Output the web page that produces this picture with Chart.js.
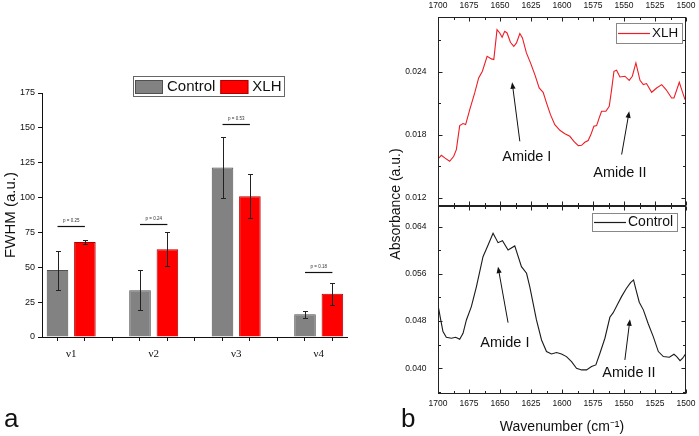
<!DOCTYPE html>
<html>
<head>
<meta charset="utf-8">
<script src="https://cdn.jsdelivr.net/npm/chart.js@4.4.1/dist/chart.umd.min.js"></script>
<style>
  html, body { margin:0; padding:0; background:#fff; }
  body { width:699px; height:436px; position:relative; overflow:hidden; font-family:"Liberation Sans", Arial, sans-serif; color:#111; }
  canvas { position:absolute; display:block; }
  #fwhm { left:0; top:0; }
  #absTop { left:380px; top:0; }
  #absBottom { left:380px; top:200px; }
  .panel { position:absolute; font-size:26px; line-height:26px; color:#111; }
  #absTitle { position:absolute; left:394.5px; top:204px; font-size:14px; line-height:14px; white-space:nowrap; transform:translate(-50%,-50%) rotate(-90deg); color:#111; }
</style>
</head>
<body>
<canvas id="fwhm" width="380" height="436"></canvas>
<canvas id="absTop" width="319" height="212"></canvas>
<canvas id="absBottom" width="319" height="236"></canvas>
<div class="panel" style="left:4px;top:404.7px;">a</div>
<div class="panel" style="left:401px;top:404.7px;">b</div>
<div id="absTitle">Absorbance (a.u.)</div>
<script>
// ---------------- Panel a data ----------------
const categories = ['ν1', 'ν2', 'ν3', 'ν4'];
const controlFWHM = [48, 33.6, 121.5, 16.3];
const controlSD = [14, 14.2, 22, 2.4];
const xlhFWHM = [68.1, 63, 101, 31];
const xlhSD = [1.2, 12.4, 15.8, 7.7];
const pValues = ['0.25', '0.24', '0.53', '0.18'];
const pBracketLevel = [79.6, 81, 152.7, 46.3];
const fwhmTicks = [0, 25, 50, 75, 100, 125, 150, 175];

// ---------------- Panel b data ----------------
const wavenumberTicks = [1500, 1525, 1550, 1575, 1600, 1625, 1650, 1675, 1700];
const xlhAbsTicks = [0.012, 0.018, 0.024];
const controlAbsTicks = [0.040, 0.048, 0.056, 0.064];

const xlhWavenumber = [1700, 1697.3, 1694.6, 1690.6, 1687.3, 1685.2, 1682.5, 1679.8, 1677.7, 1674.4,
  1670.4, 1667.2, 1664.2, 1660.4, 1656.9, 1655.0, 1652.4, 1650.2, 1648.3, 1646.2,
  1644.3, 1641.6, 1638.9, 1636.7, 1634.0, 1631.9, 1628.7, 1625.4, 1621.9, 1618.4,
  1615.2, 1612.5, 1609.3, 1605.8, 1601.7, 1597.7, 1593.7, 1590.4, 1586.9, 1584.2,
  1581.6, 1578.9, 1576.7, 1574.3, 1572.1, 1570.0, 1568.1, 1564.6, 1561.9, 1560.0,
  1558.1, 1556.0, 1553.3, 1549.3, 1545.8, 1543.3, 1540.4, 1537.1, 1534.4, 1531.8,
  1527.7, 1523.7, 1519.6, 1516.1, 1511.6, 1509.7, 1505.4, 1503.5, 1500.8];
const xlhAbsorbance = [0.01568, 0.01603, 0.01578, 0.01546, 0.01594, 0.01657, 0.01886, 0.01905, 0.01895, 0.02038,
  0.02197, 0.0234, 0.02403, 0.02546, 0.02521, 0.02514, 0.0280, 0.02768, 0.02727, 0.02784,
  0.02768, 0.02679, 0.02641, 0.02673, 0.02762, 0.02721, 0.02578, 0.02483, 0.02371, 0.02244,
  0.02203, 0.02102, 0.0199, 0.01895, 0.01841, 0.01809, 0.01784, 0.01736, 0.01695, 0.01698,
  0.01727, 0.01743, 0.018, 0.01879, 0.01886, 0.01959, 0.02022, 0.02022, 0.0207, 0.02229,
  0.02403, 0.02413, 0.02349, 0.02356, 0.02317, 0.02356, 0.02483, 0.02317, 0.02276, 0.02286,
  0.02203, 0.02244, 0.02276, 0.02229, 0.02149, 0.02149, 0.02298, 0.02229, 0.02133];

const controlWavenumber = [1699.5, 1697.8, 1696.0, 1693.3, 1689.2, 1685.7, 1682.5, 1679.8, 1677.1, 1673.1,
  1669.0, 1663.7, 1659.6, 1655.6, 1651.6, 1648.0, 1643.5, 1638.1, 1632.7, 1628.6,
  1626.0, 1620.6, 1616.5, 1612.5, 1608.5, 1604.4, 1600.4, 1596.4, 1592.3, 1588.3,
  1584.2, 1580.2, 1576.2, 1572.7, 1569.4, 1565.4, 1561.4, 1558.7, 1555.5, 1552.0,
  1548.0, 1544.7, 1542.3, 1540.4, 1537.7, 1534.4, 1530.4, 1526.4, 1522.3, 1518.3,
  1513.4, 1509.7, 1507.5, 1504.8, 1502.7, 1500.3];
const controlAbsorbance = [0.05017, 0.04819, 0.04622, 0.04526, 0.04509, 0.04526, 0.04492, 0.04593, 0.04819, 0.05045,
  0.05384, 0.05891, 0.0609, 0.06288, 0.06129, 0.06163, 0.06005, 0.06073, 0.05722, 0.0561,
  0.05383, 0.04819, 0.0448, 0.04283, 0.04243, 0.04266, 0.04243, 0.04198, 0.04113, 0.0400,
  0.03972, 0.03972, 0.04029, 0.04057, 0.04255, 0.04509, 0.04864, 0.04943, 0.05073, 0.05214,
  0.05356, 0.05451, 0.05497, 0.05339, 0.0512, 0.0499, 0.0475, 0.04537, 0.04283, 0.04198,
  0.04187, 0.04238, 0.04198, 0.0413, 0.0417, 0.04243];

// annotation anchors in data units (wavenumber, absorbance)
const xlhAnnotations = [
  { text: 'Amide I', x: 1628.4, y: 0.0159, fromX: 1634.0, fromY: 0.01736, toX: 1640.2, toY: 0.02298 },
  { text: 'Amide II', x: 1553.3, y: 0.01433, fromX: 1551.9, fromY: 0.0161, toX: 1545.8, toY: 0.02022 }
];
const controlAnnotations = [
  { text: 'Amide I', x: 1646.1, y: 0.04429, fromX: 1643.5, fromY: 0.04773, toX: 1651.6, toY: 0.05722 },
  { text: 'Amide II', x: 1546.0, y: 0.0392, fromX: 1549.3, fromY: 0.04141, toX: 1545.2, toY: 0.0483 }
];

Chart.defaults.font.family = '"Liberation Sans", Arial, sans-serif';
Chart.defaults.color = '#111';
Chart.defaults.animation = false;
const FONT = '"Liberation Sans", Arial, sans-serif';

// ---------------- Panel a plugins ----------------
const errorBars = {
  id: 'errorBars',
  afterDatasetsDraw(chart) {
    const ctx = chart.ctx, ys = chart.scales.y;
    ctx.save();
    ctx.strokeStyle = '#222';
    ctx.lineWidth = 1;
    chart.data.datasets.forEach((ds, di) => {
      chart.getDatasetMeta(di).data.forEach((bar, i) => {
        const v = ds.data[i].y, e = ds.sd[i];
        const x = Math.round(bar.x) + 0.5;
        const y1 = Math.round(ys.getPixelForValue(v + e)) + 0.5;
        const y2 = Math.round(ys.getPixelForValue(v - e)) + 0.5;
        ctx.beginPath();
        ctx.moveTo(x, y1); ctx.lineTo(x, y2);
        ctx.moveTo(x - 2.5, y1); ctx.lineTo(x + 2.5, y1);
        ctx.moveTo(x - 2.5, y2); ctx.lineTo(x + 2.5, y2);
        ctx.stroke();
      });
    });
    ctx.restore();
  }
};

const pBrackets = {
  id: 'pBrackets',
  afterDatasetsDraw(chart) {
    const ctx = chart.ctx, ys = chart.scales.y;
    const m0 = chart.getDatasetMeta(0).data, m1 = chart.getDatasetMeta(1).data;
    ctx.save();
    pValues.forEach((p, i) => {
      const y = Math.round(ys.getPixelForValue(pBracketLevel[i])) + 0.5;
      ctx.strokeStyle = '#111';
      ctx.lineWidth = 1.2;
      ctx.beginPath(); ctx.moveTo(m0[i].x, y); ctx.lineTo(m1[i].x, y); ctx.stroke();
      ctx.fillStyle = '#333';
      ctx.font = '4.5px ' + FONT;
      ctx.textAlign = 'center';
      ctx.textBaseline = 'alphabetic';
      ctx.fillText('p = ' + p, (m0[i].x + m1[i].x) / 2, y - 5);
    });
    ctx.restore();
  }
};

const fwhmLegend = {
  id: 'fwhmLegend',
  afterDraw(chart) {
    const ctx = chart.ctx, a = chart.chartArea;
    const left = Math.round(a.left + 91), top = Math.round(a.top - 17), h = 20;
    ctx.save();
    ctx.font = '15px ' + FONT;
    ctx.textBaseline = 'middle';
    ctx.textAlign = 'left';
    let x = left + 2;
    chart.data.datasets.forEach(ds => {
      const w = ctx.measureText(ds.label).width;
      ctx.fillStyle = ds.backgroundColor;
      ctx.fillRect(x, top + 4, 28, 14);
      ctx.strokeStyle = ds.borderColor;
      ctx.lineWidth = 1;
      ctx.strokeRect(x + 0.5, top + 4.5, 27, 13);
      ctx.fillStyle = '#111';
      ctx.fillText(ds.label, x + 32, top + 10.5);
      x += 32 + w + 5;
    });
    ctx.strokeStyle = '#666';
    ctx.lineWidth = 1;
    ctx.strokeRect(left + 0.5, top + 0.5, Math.round(x - 5 + 2 - left), h);
    ctx.restore();
  }
};

const groupPos = categories.map((c, i) => i + 1);

new Chart(document.getElementById('fwhm'), {
  type: 'bar',
  data: {
    datasets: [
      { label: 'Control', xAxisID: 'x', yAxisID: 'y',
        data: controlFWHM.map((v, i) => ({ x: groupPos[i], y: v })), sd: controlSD,
        backgroundColor: '#828282', borderColor: '#505050', borderWidth: 1,
        categoryPercentage: 0.664, barPercentage: 0.788 },
      { label: 'XLH', xAxisID: 'x', yAxisID: 'y',
        data: xlhFWHM.map((v, i) => ({ x: groupPos[i], y: v })), sd: xlhSD,
        backgroundColor: '#ff0000', borderColor: '#b00000', borderWidth: 1,
        categoryPercentage: 0.664, barPercentage: 0.788 }
    ]
  },
  options: {
    responsive: false,
    animation: false,
    layout: { padding: { left: 0, top: 93, right: 33, bottom: 0 } },
    plugins: { legend: { display: false }, tooltip: { enabled: false } },
    scales: {
      x: {
        type: 'linear', position: 'bottom', weight: 1, min: 0.646, max: 4.343, offset: false,
        afterBuildTicks: s => { s.ticks = groupPos.map(v => ({ value: v })); },
        afterFit: s => { s.height = 95; },
        ticks: { autoSkip: false, maxRotation: 0, padding: 7, color: '#111',
          font: { family: '"Liberation Serif", "Times New Roman", serif', size: 11 },
          callback: v => categories[Math.round(v) - 1] || '' },
        grid: { display: false, drawTicks: false, offset: false },
        border: { display: false }
      },
      xMinor: {
        type: 'linear', axis: 'x', position: 'bottom', weight: 0, min: 0.646, max: 4.343, offset: false,
        afterBuildTicks: s => {
          const t = [];
          for (let v = groupPos[0] - 1 / 6; v <= groupPos[groupPos.length - 1] + 1 / 6 + 1e-9; v += 1 / 3) t.push({ value: v });
          s.ticks = t;
        },
        afterFit: s => { s.height = 4; },
        ticks: { display: false },
        grid: { drawOnChartArea: false, drawTicks: true, tickLength: 4, color: '#111', offset: false },
        border: { display: true, color: '#111', width: 1 }
      },
      y: {
        min: 0, max: 175,
        afterBuildTicks: s => { s.ticks = fwhmTicks.map(v => ({ value: v })); },
        afterFit: s => { s.width = 42; },
        ticks: { padding: 3, font: { size: 9 }, color: '#111' },
        grid: { drawOnChartArea: false, drawTicks: true, tickLength: 4, color: '#111' },
        border: { display: true, color: '#111', width: 1 },
        title: { display: true, text: 'FWHM (a.u.)', font: { size: 15 }, color: '#111', padding: { top: 1.8, bottom: 0 } }
      }
    }
  },
  plugins: [errorBars, pBrackets, fwhmLegend]
});

// ---------------- Panel b ----------------
function minorBetween(major, lo, hi) {
  const step = major[1] - major[0];
  const out = [];
  for (let i = -1; i < major.length; i++) {
    const v = major[0] + (i + 0.5) * step;
    if (v > lo && v < hi) out.push(v);
  }
  return out;
}

function spectrumChart(canvasId, cfg) {
  const minorX = minorBetween(wavenumberTicks, 1500, 1700);
  const minorY = minorBetween(cfg.yTicks, cfg.yMin, cfg.yMax);
  const frame = {
    id: 'frame_' + canvasId,
    afterDraw(chart) {
      const { ctx, chartArea: a, scales: { x, y } } = chart;
      ctx.save();
      ctx.strokeStyle = '#222';
      ctx.lineWidth = 1;
      const L = Math.round(a.left) + 0.5, R = Math.round(a.right) - 0.5;
      const T = Math.round(a.top) + 0.5, B = Math.round(a.bottom) - 0.5;
      ctx.strokeRect(L, T, R - L, B - T);
      ctx.beginPath();
      const xt = (vals, len) => vals.forEach(v => {
        const px = Math.round(x.getPixelForValue(v)) + 0.5;
        ctx.moveTo(px, T); ctx.lineTo(px, T + len);
        ctx.moveTo(px, B); ctx.lineTo(px, B - len);
      });
      const yt = (vals, len) => vals.forEach(v => {
        const py = Math.round(y.getPixelForValue(v)) + 0.5;
        ctx.moveTo(L, py); ctx.lineTo(L + len, py);
        ctx.moveTo(R, py); ctx.lineTo(R - len, py);
      });
      xt(wavenumberTicks, 4); xt(minorX, 2.5);
      yt(cfg.yTicks, 4); yt(minorY, 2.5);
      ctx.stroke();

      // legend
      const ds = chart.data.datasets[0];
      ctx.font = cfg.legendFont + 'px ' + FONT;
      const tw = ctx.measureText(ds.label).width;
      const bw = Math.round(36 + tw + 4), bh = cfg.legendH;
      const bx = Math.round(a.right - cfg.legendRight - bw), by = Math.round(a.top + cfg.legendTop);
      ctx.fillStyle = '#fff';
      ctx.fillRect(bx, by, bw, bh);
      ctx.strokeStyle = '#888';
      ctx.strokeRect(bx + 0.5, by + 0.5, bw, bh);
      ctx.strokeStyle = ds.borderColor;
      ctx.lineWidth = 1.2;
      ctx.beginPath();
      ctx.moveTo(bx + 2, by + bh / 2 + 0.5); ctx.lineTo(bx + 34, by + bh / 2 + 0.5);
      ctx.stroke();
      ctx.fillStyle = '#111';
      ctx.textAlign = 'left';
      ctx.textBaseline = 'middle';
      ctx.fillText(ds.label, bx + 36, by + bh / 2 + 0.5);

      // annotations
      ctx.font = '14.5px ' + FONT;
      ctx.textAlign = 'center';
      ctx.textBaseline = 'middle';
      ctx.fillStyle = '#111';
      ctx.strokeStyle = '#111';
      ctx.lineWidth = 1;
      cfg.annotations.forEach(an => {
        ctx.fillText(an.text, x.getPixelForValue(an.x), y.getPixelForValue(an.y));
        const x0 = x.getPixelForValue(an.fromX), y0 = y.getPixelForValue(an.fromY);
        const x1 = x.getPixelForValue(an.toX), y1 = y.getPixelForValue(an.toY);
        const ang = Math.atan2(y1 - y0, x1 - x0), c = Math.cos(ang), s = Math.sin(ang);
        ctx.beginPath();
        ctx.moveTo(x0, y0); ctx.lineTo(x1 - 5 * c, y1 - 5 * s);
        ctx.stroke();
        ctx.beginPath();
        ctx.moveTo(x1, y1);
        ctx.lineTo(x1 - 6.5 * c + 2.6 * s, y1 - 6.5 * s - 2.6 * c);
        ctx.lineTo(x1 - 6.5 * c - 2.6 * s, y1 - 6.5 * s + 2.6 * c);
        ctx.closePath();
        ctx.fill();
      });
      ctx.restore();
    }
  };

  return new Chart(document.getElementById(canvasId), {
    type: 'line',
    data: {
      datasets: [{
        label: cfg.label,
        data: cfg.wn.map((w, i) => ({ x: w, y: cfg.abs[i] })),
        borderColor: cfg.color, borderWidth: 1.1, pointRadius: 0, tension: 0, fill: false
      }]
    },
    options: {
      responsive: false,
      animation: false,
      layout: { padding: cfg.padding },
      plugins: { legend: { display: false }, tooltip: { enabled: false } },
      scales: {
        x: {
          type: 'linear', position: cfg.xPos, min: 1500, max: 1700, reverse: true,
          afterBuildTicks: s => { s.ticks = wavenumberTicks.map(v => ({ value: v })); },
          afterFit: s => { s.height = cfg.xHeight; },
          ticks: { autoSkip: false, maxRotation: 0, padding: 0, font: { size: 8.5 }, color: '#111', callback: v => String(v) },
          grid: { display: false, drawTicks: true, tickLength: cfg.xPad },
          border: { display: false },
          title: cfg.xTitle
            ? { display: true, text: cfg.xTitle, font: { size: 14 }, color: '#111', padding: { top: 0, bottom: 0.9 } }
            : { display: false }
        },
        y: {
          type: 'linear', min: cfg.yMin, max: cfg.yMax,
          afterBuildTicks: s => { s.ticks = cfg.yTicks.map(v => ({ value: v })); },
          afterFit: s => { s.width = 58; },
          ticks: { padding: 0, font: { size: 8.5 }, color: '#111', callback: v => Number(v).toFixed(3) },
          grid: { display: false, drawTicks: true, tickLength: 11.6 },
          border: { display: false }
        }
      }
    },
    plugins: [frame]
  });
}

spectrumChart('absTop', {
  label: 'XLH', wn: xlhWavenumber, abs: xlhAbsorbance, color: '#ee1c24',
  yMin: 0.0112, yMax: 0.0292, yTicks: xlhAbsTicks,
  xPos: 'top', xHeight: 17, xPad: 5.9, xTitle: null,
  padding: { left: 0, top: 0, right: 13, bottom: 6 },
  legendFont: 13.4, legendH: 20, legendRight: 4.3, legendTop: 5.7,
  annotations: xlhAnnotations
});

spectrumChart('absBottom', {
  label: 'Control', wn: controlWavenumber, abs: controlAbsorbance, color: '#1a1a1a',
  yMin: 0.03564, yMax: 0.0675, yTicks: controlAbsTicks,
  xPos: 'bottom', xHeight: 42, xPad: 4.9, xTitle: 'Wavenumber (cm⁻¹)',
  padding: { left: 0, top: 6, right: 13, bottom: 0 },
  legendFont: 14, legendH: 18, legendRight: 9.3, legendTop: 6.7,
  annotations: controlAnnotations
});
</script>
</body>
</html>
